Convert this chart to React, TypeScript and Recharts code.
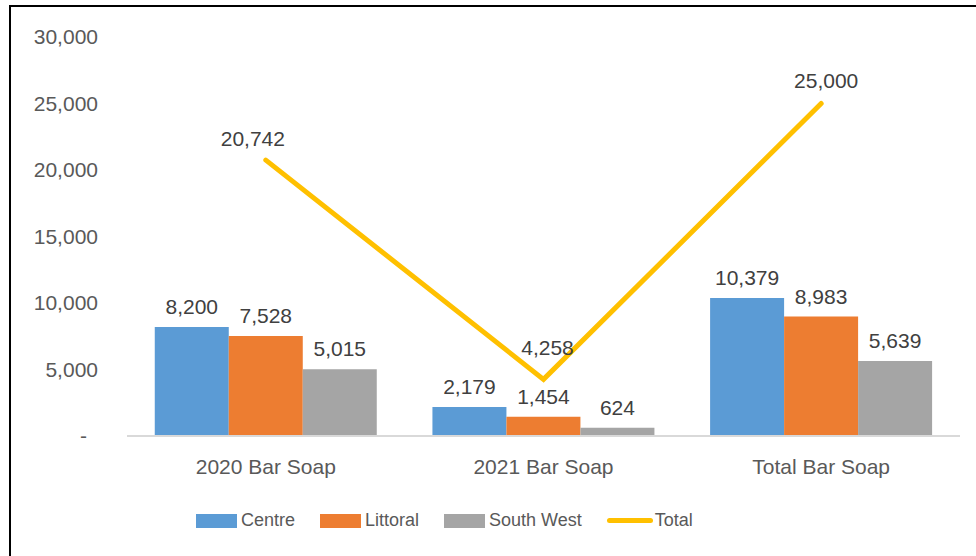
import React from "react";
import { ComposedChart, Bar, Line, XAxis, YAxis, Legend, LabelList } from "recharts";

const categories = ["2020 Bar Soap", "2021 Bar Soap", "Total Bar Soap"];
const centre = [8200, 2179, 10379];
const littoral = [7528, 1454, 8983];
const southWest = [5015, 624, 5639];
const total = [20742, 4258, 25000];
const yTicks = [0, 5000, 10000, 15000, 20000, 25000, 30000];

const data = categories.map((c, i) => ({
  name: c,
  Centre: centre[i],
  Littoral: littoral[i],
  "South West": southWest[i],
  Total: total[i],
}));

const FONT = "'Liberation Sans', Arial, sans-serif";
const fmt = (v: number) => (v === 0 ? "-" : v.toLocaleString("en-US"));

const YTick = (props: any) => {
  const { x, y, payload } = props;
  const v = payload.value;
  return (
    <text x={v === 0 ? x - 11 : x} y={y} dy={7} textAnchor="end" fill="#595959" fontSize={21} fontFamily={FONT}>
      {fmt(v)}
    </text>
  );
};

// label placement tweaks for the Total line (Excel-style auto placement)
const lineLabelShift = [
  { dx: -13, dy: 0 },
  { dx: 4, dy: -10 },
  { dx: 5, dy: -2 },
];

const TotalLabel = (props: any) => {
  const { x, y, value, index } = props;
  const s = lineLabelShift[index] || { dx: 0, dy: 0 };
  return (
    <text x={x + s.dx} y={y - 14 + s.dy} textAnchor="middle" fill="#404040" fontSize={21} fontFamily={FONT}>
      {fmt(value)}
    </text>
  );
};

const legendItems = [
  { name: "Centre", color: "#5B9BD5", type: "rect" },
  { name: "Littoral", color: "#ED7D31", type: "rect" },
  { name: "South West", color: "#A5A5A5", type: "rect" },
  { name: "Total", color: "#FFC000", type: "line" },
];

const LegendContent = () => (
  <div style={{ display: "flex", alignItems: "center", fontFamily: FONT, fontSize: 18, color: "#595959", whiteSpace: "nowrap" }}>
    {legendItems.map((it, i) => (
      <div key={it.name} style={{ display: "flex", alignItems: "center", marginRight: i < legendItems.length - 1 ? 25 : 0 }}>
        {it.type === "rect" ? (
          <span style={{ display: "inline-block", width: 41, height: 14, background: it.color, marginRight: 4 }} />
        ) : (
          <span style={{ display: "inline-block", width: 46, height: 5, borderRadius: 3, background: it.color, marginRight: 2 }} />
        )}
        <span>{it.name}</span>
      </div>
    ))}
  </div>
);

export default function App() {
  return (
    <div style={{ position: "absolute", left: 0, top: 0, width: 976, height: 556, background: "#fff", overflow: "hidden" }}>
      <div style={{ position: "absolute", left: 9, top: 5, width: 1000, height: 600, borderTop: "2px solid #000", borderLeft: "2px solid #000" }} />
      <div style={{ position: "absolute", left: 0, top: 0 }}>
        <ComposedChart
          width={976}
          height={556}
          data={data}
          margin={{ top: 37, right: 16, left: 0, bottom: 80 }}
          barCategoryGap="10%"
          barGap={0}
        >
          <XAxis
            dataKey="name"
            height={40}
            tickSize={0}
            tickMargin={23}
            axisLine={{ stroke: "#D9D9D9", strokeWidth: 2 }}
            tickLine={false}
            tick={{ fill: "#595959", fontSize: 21, fontFamily: FONT }}
          />
          <YAxis
            width={127}
            domain={[0, 30000]}
            ticks={yTicks}
            tickSize={0}
            tickMargin={29}
            axisLine={false}
            tickLine={false}
            tick={<YTick />}
          />
          <Legend
            layout="horizontal"
            verticalAlign="middle"
            wrapperStyle={{ left: 196, top: 510, width: "auto" }}
            content={<LegendContent />}
          />
          <Bar dataKey="Centre" fill="#5B9BD5" isAnimationActive={false}>
            <LabelList dataKey="Centre" position="top" offset={13} formatter={(v: any) => fmt(v)} fill="#404040" fontSize={21} fontFamily={FONT} />
          </Bar>
          <Bar dataKey="Littoral" fill="#ED7D31" isAnimationActive={false}>
            <LabelList dataKey="Littoral" position="top" offset={13} formatter={(v: any) => fmt(v)} fill="#404040" fontSize={21} fontFamily={FONT} />
          </Bar>
          <Bar dataKey="South West" fill="#A5A5A5" isAnimationActive={false}>
            <LabelList dataKey="South West" position="top" offset={13} formatter={(v: any) => fmt(v)} fill="#404040" fontSize={21} fontFamily={FONT} />
          </Bar>
          <Line
            dataKey="Total"
            stroke="#FFC000"
            strokeWidth={5}
            strokeLinecap="round"
            strokeLinejoin="miter"
            dot={false}
            activeDot={false}
            isAnimationActive={false}
          >
            <LabelList dataKey="Total" content={<TotalLabel />} />
          </Line>
        </ComposedChart>
      </div>
    </div>
  );
}
